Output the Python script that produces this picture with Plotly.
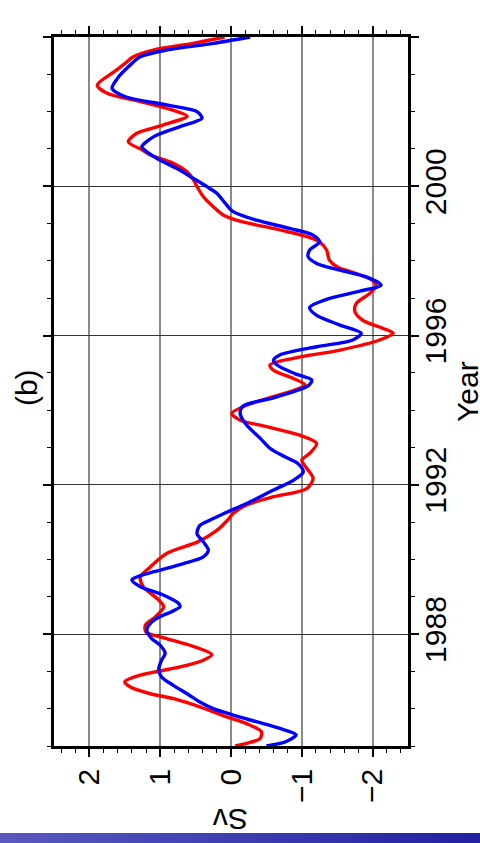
import plotly.graph_objects as go

# ---------------- data ----------------
red_year = [1985.00, 1985.07, 1985.20, 1985.38, 1985.60, 1985.78, 1986.05, 1986.27, 1986.40, 1986.58,
            1986.72, 1986.90, 1987.03, 1987.12, 1987.30, 1987.45, 1987.70, 1987.88, 1988.05, 1988.24,
            1988.46, 1988.73, 1988.91, 1989.27, 1989.53, 1989.80, 1990.16, 1990.47, 1990.78, 1991.05,
            1991.23, 1991.46, 1991.68, 1991.90, 1992.17, 1992.44, 1992.66, 1992.84, 1993.11, 1993.33,
            1993.56, 1993.73, 1993.91, 1994.13, 1994.36, 1994.54, 1994.67, 1994.85, 1995.07, 1995.21,
            1995.39, 1995.61, 1995.88, 1996.06, 1996.19, 1996.41, 1996.64, 1996.86, 1997.13, 1997.35,
            1997.50, 1997.67, 1997.84, 1998.02, 1998.29, 1998.51, 1998.65, 1998.87, 1999.05, 1999.23,
            1999.45, 1999.72, 1999.99, 2000.17, 2000.39, 2000.61, 2000.84, 2000.97, 2001.19, 2001.42,
            2001.64, 2001.88, 2002.04, 2002.27, 2002.49, 2002.71, 2003.03, 2003.30, 2003.47, 2003.65,
            2003.83, 2004.00]
red_sv = [-0.06, -0.22, -0.41, -0.43, -0.22, 0.06, 0.44, 0.81, 1.14, 1.42,
          1.50, 1.28, 0.95, 0.72, 0.39, 0.27, 0.58, 0.91, 1.20, 1.21,
          1.07, 0.95, 1.02, 1.24, 1.28, 1.14, 0.91, 0.47, 0.20, 0.05,
          -0.03, -0.22, -0.60, -1.07, -1.16, -1.07, -1.00, -1.11, -1.21, -0.97,
          -0.50, -0.13, -0.01, -0.22, -0.60, -0.90, -1.05, -0.88, -0.60, -0.55,
          -0.88, -1.54, -2.10, -2.29, -2.15, -1.86, -1.75, -1.77, -1.96, -2.05,
          -1.98, -1.75, -1.50, -1.39, -1.35, -1.25, -1.07, -0.60, -0.15, 0.11,
          0.25, 0.39, 0.48, 0.53, 0.62, 0.81, 1.14, 1.25, 1.45, 1.33,
          0.96, 0.62, 0.82, 1.28, 1.75, 1.89, 1.68, 1.49, 1.38, 1.10,
          0.54, 0.09]

blue_year = [1985.00, 1985.12, 1985.30, 1985.47, 1985.65, 1985.83, 1986.00, 1986.18, 1986.40, 1986.62,
             1986.85, 1987.07, 1987.30, 1987.48, 1987.70, 1987.88, 1988.10, 1988.24, 1988.42, 1988.60,
             1988.73, 1988.82, 1989.04, 1989.27, 1989.45, 1989.53, 1989.67, 1989.89, 1990.07, 1990.25,
             1990.47, 1990.69, 1990.91, 1991.05, 1991.23, 1991.50, 1991.86, 1992.12, 1992.34, 1992.56,
             1992.77, 1992.98, 1993.25, 1993.60, 1993.91, 1994.11, 1994.33, 1994.54, 1994.67, 1994.81,
             1994.98, 1995.21, 1995.34, 1995.48, 1995.70, 1995.88, 1996.06, 1996.28, 1996.54, 1996.75,
             1996.97, 1997.19, 1997.35, 1997.57, 1997.75, 1997.93, 1998.11, 1998.29, 1998.51, 1998.69,
             1998.87, 1999.09, 1999.32, 1999.54, 1999.81, 1999.99, 2000.21, 2000.48, 2000.75, 2000.97,
             2001.06, 2001.33, 2001.60, 2001.82, 2002.00, 2002.18, 2002.40, 2002.62, 2002.90, 2003.20,
             2003.47, 2003.65, 2003.83, 2004.00]
blue_sv = [-0.50, -0.78, -0.92, -0.69, -0.36, -0.03, 0.25, 0.44, 0.62, 0.81,
           0.98, 1.02, 0.98, 0.93, 1.00, 1.12, 1.19, 1.16, 1.05, 0.84,
           0.72, 0.74, 0.95, 1.28, 1.40, 1.33, 1.09, 0.67, 0.39, 0.32,
           0.39, 0.48, 0.44, 0.30, 0.10, -0.22, -0.60, -0.88, -1.02, -0.95,
           -0.74, -0.55, -0.41, -0.22, -0.13, -0.17, -0.60, -0.95, -1.10, -1.14,
           -0.90, -0.65, -0.60, -0.69, -1.21, -1.72, -1.84, -1.54, -1.21, -1.11,
           -1.35, -1.82, -2.12, -1.91, -1.54, -1.21, -1.09, -1.11, -1.25, -1.16,
           -0.83, -0.36, -0.03, 0.08, 0.20, 0.34, 0.53, 0.77, 1.05, 1.22,
           1.26, 1.09, 0.72, 0.41, 0.48, 0.91, 1.49, 1.68, 1.60, 1.45,
           1.28, 0.91, 0.25, -0.27]

sv_ticks = [2, 1, 0, -1, -2]
sv_labels = ["2", "1", "0", "\u22121", "\u22122"]
year_ticks = [1988, 1992, 1996, 2000, 2004]
year_labels = ["1988", "1992", "1996", "2000", "2004"]

FONT = "Liberation Sans, Arial, Helvetica, sans-serif"

fig = go.Figure()
fig.add_trace(go.Scatter(x=red_sv, y=red_year, mode="lines",
                         line=dict(color="#ff0000", width=3.4, shape="spline", smoothing=0.8),
                         showlegend=False, hoverinfo="skip"))
fig.add_trace(go.Scatter(x=blue_sv, y=blue_year, mode="lines",
                         line=dict(color="#0000ff", width=3.4, shape="spline", smoothing=0.8),
                         showlegend=False, hoverinfo="skip"))

fig.update_layout(
    width=480, height=843,
    margin=dict(l=54, r=72, t=37, b=97),
    paper_bgcolor="white", plot_bgcolor="white",
    font=dict(family=FONT, color="black", size=30),
    xaxis=dict(
        range=[2.5, -2.5], tickmode="array", tickvals=sv_ticks, ticktext=sv_labels,
        tickangle=-90, ticks="outside", ticklen=8, tickwidth=1.5, tickcolor="black",
        showline=True, linewidth=2.5, linecolor="black", mirror="ticks",
        showgrid=True, gridcolor="#8a8a8a", gridwidth=1.6, zeroline=False,
        tickfont=dict(size=30, family=FONT, color="black"),
        minor=dict(dtick=0.2, tick0=0, ticks="outside", ticklen=4, tickwidth=1.2,
                   tickcolor="black", showgrid=False),
        fixedrange=True,
    ),
    yaxis=dict(
        range=[1985, 2004], side="right", tickmode="array", tickvals=year_ticks,
        ticktext=year_labels, tickangle=-90, ticks="outside", ticklen=8, tickwidth=1.5,
        tickcolor="black", showline=True, linewidth=2.5, linecolor="black", mirror="ticks",
        showgrid=True, gridcolor="#333333", gridwidth=1.1, zeroline=False,
        tickfont=dict(size=30, family=FONT, color="black"),
        ticklabelstandoff=-9,
        minor=dict(dtick=1, tick0=1985, ticks="outside", ticklen=4, tickwidth=1.2,
                   tickcolor="black", showgrid=False),
        fixedrange=True,
    ),
)

# titles (the whole chart is rotated a quarter turn)
fig.add_annotation(text="(b)", xref="paper", yref="paper", x=-0.076, y=0.505,
                   textangle=-90, showarrow=False, xanchor="center", yanchor="middle",
                   font=dict(size=30, family=FONT, color="black"))
fig.add_annotation(text="Year", xref="paper", yref="paper", x=1.168, y=0.5,
                   textangle=-90, showarrow=False, xanchor="center", yanchor="middle",
                   font=dict(size=30, family=FONT, color="black"))
fig.add_annotation(text="Sv", xref="paper", yref="paper", x=0.497, y=-0.104,
                   textangle=180, showarrow=False, xanchor="center", yanchor="middle",
                   font=dict(size=30, family=FONT, color="black"))

# decorative gradient band at the very bottom
n = 30
x0p, x1p = -54 / 354, (480 - 54) / 354
y_top, y_bot = (746 - 833) / 709, (746 - 846) / 709
c0, c1 = (88, 88, 190), (34, 34, 162)
for i in range(n):
    t = i / (n - 1)
    col = "rgb(%d,%d,%d)" % tuple(round(a + (b - a) * t) for a, b in zip(c0, c1))
    xa = x0p + (x1p - x0p) * i / n
    xb = x0p + (x1p - x0p) * (i + 1) / n + 0.002
    fig.add_shape(type="rect", xref="paper", yref="paper", x0=xa, x1=xb, y0=y_bot, y1=y_top,
                  fillcolor=col, line=dict(width=0), layer="above")

fig.write_html("out.html")
